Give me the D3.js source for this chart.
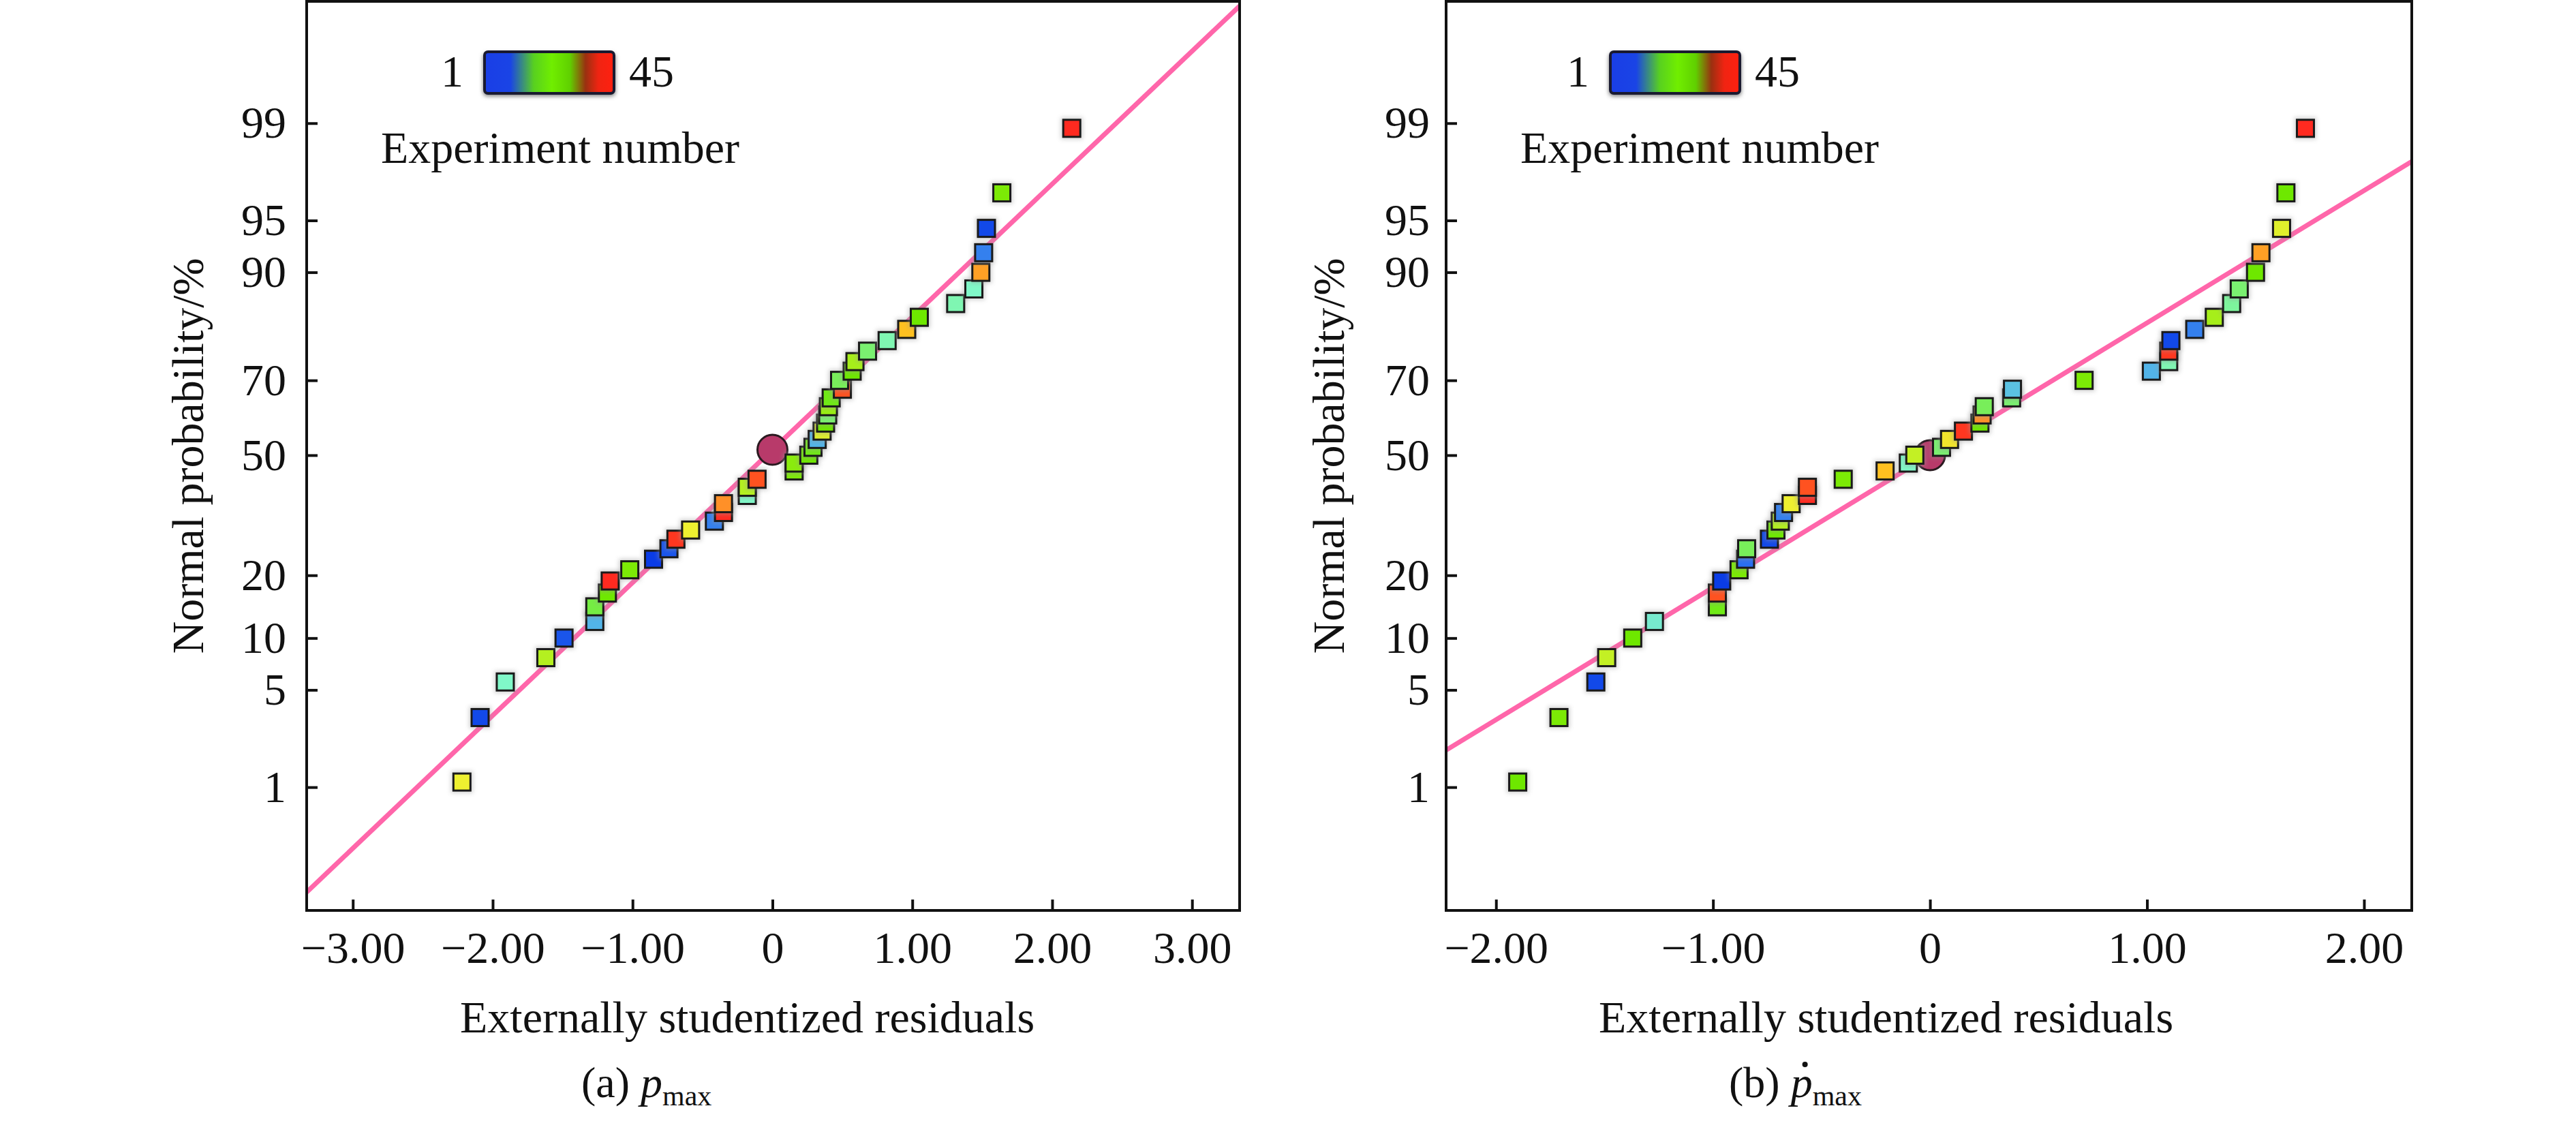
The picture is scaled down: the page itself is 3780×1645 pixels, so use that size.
<!DOCTYPE html>
<html>
<head>
<meta charset="utf-8">
<script src="https://cdn.jsdelivr.net/npm/d3@7"></script>
<style>
  body { margin: 0; background: #fff; }
  text { font-family: "Liberation Serif", "Times New Roman", serif; fill: #111; }
</style>
</head>
<body>
<div id="chart"></div>
<script>
// canvas size
var svgWidth = 3780;
var svgHeight = 1645;

// cumulative normal probability (%) of each ranked residual, shared by both plots
var probs = [1.1, 3.3, 5.6, 7.8, 10.0, 12.2, 14.4, 16.7, 18.9, 21.1, 23.3, 25.6, 27.8, 30.0, 32.2,
  34.4, 36.7, 38.9, 41.1, 43.3, 45.6, 47.8, 50.0, 52.2, 54.4, 56.7, 58.9, 61.1, 63.3, 65.6,
  67.8, 70.0, 72.2, 74.4, 76.7, 78.9, 81.1, 83.3, 85.6, 87.8, 90.0, 92.2, 94.4, 96.7, 98.9];

// (a) p_max : externally studentized residuals, ranked
var residA = [-2.22, -2.09, -1.91, -1.62, -1.49, -1.27, -1.27, -1.18, -1.16, -1.02, -0.85, -0.74, -0.69, -0.585, -0.415,
  -0.35, -0.35, -0.18, -0.18, -0.11, 0.155, 0.155, 0.26, 0.29, 0.32, 0.355, 0.38, 0.395, 0.40, 0.42,
  0.50, 0.48, 0.57, 0.59, 0.68, 0.82, 0.96, 1.05, 1.31, 1.44, 1.49, 1.51, 1.53, 1.64, 2.14];
// experiment number of each point
var runA = [32, 2, 14, 28, 3, 9, 20, 23, 45, 24, 1, 3, 44, 32, 6,
  45, 39, 14, 28, 42, 24, 25, 23, 22, 9, 31, 23, 18, 26, 22,
  42, 19, 23, 27, 18, 15, 36, 23, 15, 14, 38, 6, 2, 24, 45];

// (b) p_max rate
var residB = [-1.90, -1.71, -1.54, -1.49, -1.37, -1.27, -0.98, -0.98, -0.96, -0.88, -0.85, -0.845, -0.74, -0.71, -0.69,
  -0.675, -0.64, -0.565, -0.565, -0.40, -0.207, -0.10, -0.07, 0.053, 0.09, 0.154, 0.23, 0.24, 0.25, 0.376,
  0.38, 0.71, 1.02, 1.10, 1.10, 1.11, 1.22, 1.31, 1.39, 1.425, 1.50, 1.525, 1.62, 1.64, 1.73];
var runB = [23, 24, 2, 29, 23, 13, 22, 42, 1, 24, 5, 19, 2, 23, 28,
  6, 32, 45, 42, 24, 36, 14, 29, 18, 33, 44, 23, 39, 19, 18,
  10, 24, 9, 15, 44, 2, 6, 27, 16, 18, 23, 38, 31, 23, 45];

// fitted reference line in normal-score units: [intercept, slope]
var fitA = [0.038, 0.931];
var fitB = [0.0, 0.927];

var yTicks = [1, 5, 10, 20, 50, 70, 90, 95, 99];
var xTicksA = [-3, -2, -1, 0, 1, 2, 3];
var xTicksB = [-2, -1, 0, 1, 2];

// inverse normal CDF (Acklam)
function probit(p) {
  var a = [-3.969683028665376e+01, 2.209460984245205e+02, -2.759285104469687e+02, 1.383577518672690e+02, -3.066479806614716e+01, 2.506628277459239e+00];
  var b = [-5.447609879822406e+01, 1.615858368580409e+02, -1.556989798598866e+02, 6.680131188771972e+01, -1.328068155288572e+01];
  var c = [-7.784894002430293e-03, -3.223964580411365e-01, -2.400758277161838e+00, -2.549732539343734e+00, 4.374664141464968e+00, 2.938163982698783e+00];
  var d = [7.784695709041462e-03, 3.224671290700398e-01, 2.445134137142996e+00, 3.754408661907416e+00];
  var q, r;
  if (p < 0.02425) {
    q = Math.sqrt(-2 * Math.log(p));
    return (((((c[0]*q+c[1])*q+c[2])*q+c[3])*q+c[4])*q+c[5]) / ((((d[0]*q+d[1])*q+d[2])*q+d[3])*q+1);
  }
  if (p > 1 - 0.02425) {
    q = Math.sqrt(-2 * Math.log(1 - p));
    return -(((((c[0]*q+c[1])*q+c[2])*q+c[3])*q+c[4])*q+c[5]) / ((((d[0]*q+d[1])*q+d[2])*q+d[3])*q+1);
  }
  q = p - 0.5; r = q * q;
  return (((((a[0]*r+a[1])*r+a[2])*r+a[3])*r+a[4])*r+a[5])*q / (((((b[0]*r+b[1])*r+b[2])*r+b[3])*r+b[4])*r+1);
}

// colour by experiment number
var runColour = d3.scaleLinear()
  .domain([1, 5, 9, 14, 18, 23, 28, 32, 36, 39, 42, 45])
  .range(["#0a3ce6", "#2a6ef0", "#52b4e8", "#80f8c8", "#7af070", "#6ee800",
          "#b4f020", "#eef030", "#ffc020", "#ff9028", "#ff5220", "#ff2a20"])
  .clamp(true);

var svg = d3.select("#chart")
  .append("svg")
  .attr("width", svgWidth)
  .attr("height", svgHeight);

svg.append("rect").attr("width", svgWidth).attr("height", svgHeight).attr("fill", "#fff");

var defs = svg.append("defs");
var grad = defs.append("linearGradient").attr("id", "runGrad");
[[0, "#1a3ee6"], [0.2, "#1a44e6"], [0.38, "#58d020"], [0.52, "#70ee00"], [0.66, "#60d000"],
 [0.78, "#9a3010"], [0.88, "#f02412"], [1, "#ff2010"]].forEach(function(s) {
  grad.append("stop").attr("offset", s[0]).attr("stop-color", s[1]);
});
var blur = defs.append("filter").attr("id", "soft").attr("x", "-20%").attr("y", "-20%").attr("width", "140%").attr("height", "140%");
blur.append("feGaussianBlur").attr("stdDeviation", 3);

var plotTop = 2, plotBottom = 1336;
var y = d3.scaleLinear().domain([-3.19, 3.18]).range([plotBottom, plotTop]);

var panels = [
  {left: 450, right: 1819, xDomain: [-3.33, 3.34], xTicks: xTicksA, xs: residA, runs: runA, fit: fitA,
   legendX: 711, titleX: 675, yTitleX: 298, labelPad: 30, capX: 853, cap: "(a) ", dot: false},
  {left: 2122, right: 3539, xDomain: [-2.23, 2.22], xTicks: xTicksB, xs: residB, runs: runB, fit: fitB,
   legendX: 2363, titleX: 2346, yTitleX: 1972, labelPad: 24, capX: 2537, cap: "(b) ", dot: true}
];

panels.forEach(function(pn, k) {
  var x = d3.scaleLinear().domain(pn.xDomain).range([pn.left, pn.right]);
  var g = svg.append("g");

  var clipId = "clip" + k;
  defs.append("clipPath").attr("id", clipId)
    .append("rect").attr("x", pn.left).attr("y", plotTop).attr("width", pn.right - pn.left).attr("height", plotBottom - plotTop);

  // axes
  var bottomAxis = d3.axisBottom(x)
    .tickValues(pn.xTicks)
    .tickSize(-16)
    .tickPadding(30)
    .tickFormat(function(d) { return d === 0 ? "0" : d3.format(".2f")(d); });
  var leftAxis = d3.axisLeft(y)
    .tickValues(yTicks.map(function(p) { return probit(p / 100); }))
    .tickSize(-16)
    .tickPadding(pn.labelPad)
    .tickFormat(function(d, i) { return yTicks[i]; });

  var gx = g.append("g").attr("transform", `translate(0, ${plotBottom})`).call(bottomAxis);
  var gy = g.append("g").attr("transform", `translate(${pn.left}, 0)`).call(leftAxis);
  [gx, gy].forEach(function(ax) {
    ax.select(".domain").remove();
    ax.selectAll(".tick line").attr("stroke", "#111").attr("stroke-width", 4);
    ax.selectAll(".tick text").style("font-size", "66px").attr("fill", "#111")
      .style("font-family", "'Liberation Serif', 'Times New Roman', serif");
  });

  // reference line
  g.append("line")
    .attr("clip-path", `url(#${clipId})`)
    .attr("x1", x(pn.xDomain[0])).attr("y1", y(pn.fit[0] + pn.fit[1] * pn.xDomain[0]))
    .attr("x2", x(pn.xDomain[1])).attr("y2", y(pn.fit[0] + pn.fit[1] * pn.xDomain[1]))
    .attr("stroke", "#ff66aa").attr("stroke-width", 7);

  // centre marker on the line
  g.append("circle")
    .attr("cx", x(0)).attr("cy", y(pn.fit[0]))
    .attr("r", 22)
    .attr("fill", "#b83a6a").attr("stroke", "#2a1a20").attr("stroke-width", 3);

  // points
  var pts = pn.xs.map(function(v, i) { return {x: v, p: probs[i], run: pn.runs[i]}; });
  var pg = g.selectAll(".pt").data(pts).enter().append("g")
    .attr("class", "pt")
    .attr("transform", function(d) { return `translate(${x(d.x)},${y(probit(d.p / 100))})`; });
  pg.append("rect")
    .attr("x", -16).attr("y", -16).attr("width", 32).attr("height", 32)
    .attr("fill", "#999").attr("opacity", 0.45).attr("filter", "url(#soft)");
  pg.append("rect")
    .attr("x", -12.5).attr("y", -12.5).attr("width", 25).attr("height", 25)
    .attr("fill", function(d) { return runColour(d.run); })
    .attr("stroke", "#1a1a1a").attr("stroke-width", 3);

  // frame
  g.append("rect")
    .attr("x", pn.left).attr("y", plotTop)
    .attr("width", pn.right - pn.left).attr("height", plotBottom - plotTop)
    .attr("fill", "none").attr("stroke", "#111").attr("stroke-width", 4);

  // colour legend
  g.append("rect")
    .attr("x", pn.legendX - 2).attr("y", 78).attr("width", 194).attr("height", 63).attr("rx", 6)
    .attr("fill", "#777").attr("filter", "url(#soft)");
  g.append("rect")
    .attr("x", pn.legendX).attr("y", 76).attr("width", 190).attr("height", 61).attr("rx", 5)
    .attr("fill", "url(#runGrad)").attr("stroke", "#1a1a30").attr("stroke-width", 4);
  g.append("text").attr("x", pn.legendX - 31).attr("y", 127).attr("text-anchor", "end")
    .style("font-size", "66px").text("1");
  g.append("text").attr("x", pn.legendX + 212).attr("y", 127)
    .style("font-size", "66px").text("45");
  g.append("text").attr("x", pn.left + 109).attr("y", 239)
    .style("font-size", "66px").text("Experiment number");

  // axis titles
  g.append("text").attr("x", pn.titleX).attr("y", 1515)
    .style("font-size", "66px").text("Externally studentized residuals");
  g.append("text")
    .attr("transform", `translate(${pn.yTitleX}, 669) rotate(-90)`)
    .attr("text-anchor", "middle")
    .style("font-size", "66px").text("Normal probability/%");

  // caption
  var cap = g.append("text").attr("x", pn.capX).attr("y", 1610).style("font-size", "64px");
  cap.append("tspan").text(pn.cap);
  var pSpan = cap.append("tspan").style("font-style", "italic").text("p");
  cap.append("tspan").attr("dy", 12).style("font-size", "42px").text("max");
  if (pn.dot) {
    // time-derivative dot over the p
    var start = pSpan.node().getStartPositionOfChar(0).x;
    g.append("circle").attr("cx", start + 21).attr("cy", 1562).attr("r", 4).attr("fill", "#111");
  }
});
</script>
</body>
</html>
